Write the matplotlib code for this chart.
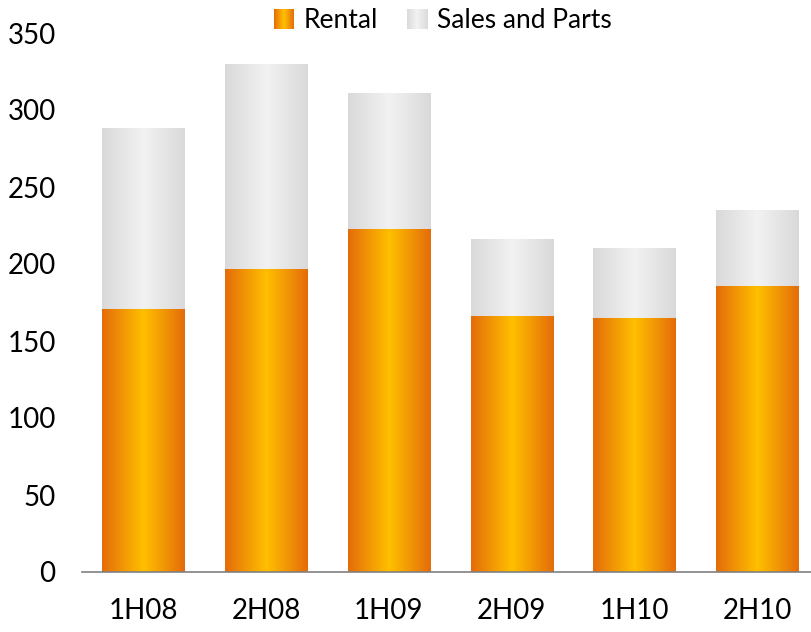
import numpy as np
import matplotlib
matplotlib.use('Agg')
import matplotlib.pyplot as plt
from matplotlib.colors import LinearSegmentedColormap
from matplotlib.patches import Rectangle
from matplotlib.legend_handler import HandlerBase

plt.rcParams['font.family'] = ['Lato', 'DejaVu Sans']

periods = ['1H08', '2H08', '1H09', '2H09', '1H10', '2H10']
rental = [171, 197, 223, 166, 165, 186]
sales_parts = [117, 133, 88, 50, 45, 49]
yticks = [0, 50, 100, 150, 200, 250, 300, 350]

orange_cm = LinearSegmentedColormap.from_list('orng', ['#E46C0A', '#FFC000', '#E46C0A'])
grey_cm = LinearSegmentedColormap.from_list('gry', ['#D9D9D9', '#F2F2F2', '#D9D9D9'])
grad = np.linspace(0, 1, 256).reshape(1, -1)
width = 0.67

fig = plt.figure(figsize=(8.12, 6.32), dpi=100)
ax = fig.add_axes([82 / 812, 60 / 632, 730 / 812, 539 / 632])

def gradient_bar(x, bottom, height, cmap):
    ax.imshow(grad, cmap=cmap, aspect='auto', interpolation='bilinear',
              extent=(x - width / 2, x + width / 2, bottom, bottom + height), zorder=2)

x = np.arange(len(periods))
for i in range(len(periods)):
    gradient_bar(x[i], 0, rental[i], orange_cm)
    gradient_bar(x[i], rental[i], sales_parts[i], grey_cm)

ax.set_xlim(-0.5, 5.447)
ax.set_ylim(0, 350)
ax.set_xticks(x)
ax.set_xticklabels(periods, fontsize=20)
ax.set_yticks(yticks)
ax.set_yticklabels([str(v) for v in yticks], fontsize=20)
for sp in ['top', 'right', 'left']:
    ax.spines[sp].set_visible(False)
ax.spines['bottom'].set_color('#808080')
ax.spines['bottom'].set_linewidth(1.2)
ax.tick_params(axis='both', length=0)
ax.tick_params(axis='x', pad=19)
ax.tick_params(axis='y', pad=19)


class GradHandler(HandlerBase):
    def __init__(self, cmap):
        super().__init__()
        self.cmap = cmap

    def create_artists(self, legend, orig_handle, xdescent, ydescent,
                       width, height, fontsize, trans):
        n = 20
        side = height * 1.1
        x0 = xdescent + (width - side) / 2
        arts = []
        for k in range(n):
            r = Rectangle((x0 + k * side / n, -ydescent - 0.05 * height), side / n + 0.3, side,
                          facecolor=self.cmap((k + 0.5) / n), edgecolor='none', transform=trans)
            arts.append(r)
        return arts

h1 = Rectangle((0, 0), 1, 1)
h2 = Rectangle((0, 0), 1, 1)
fig.legend([h1, h2], ['Rental', 'Sales and Parts'],
           handler_map={h1: GradHandler(orange_cm), h2: GradHandler(grey_cm)},
           loc='upper center', bbox_to_anchor=(0.545, 1.025), ncol=2, frameon=False,
           fontsize=19, handlelength=0.8, handletextpad=0.35, columnspacing=1.1)

fig.savefig('out.png', dpi=100)
